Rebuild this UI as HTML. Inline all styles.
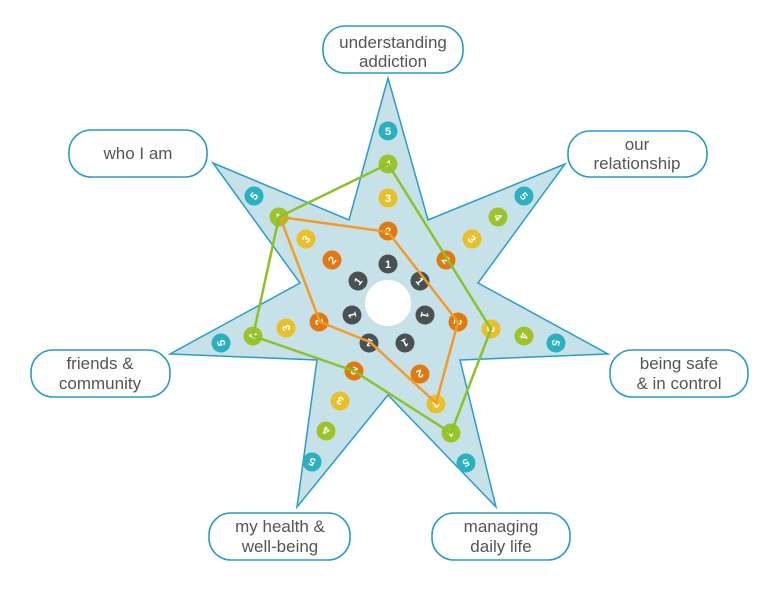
<!DOCTYPE html>
<html><head><meta charset="utf-8"><style>
html,body{margin:0;padding:0;background:#fff;width:768px;height:599px;overflow:hidden}
svg{display:block}
</style></head><body>
<svg width="768" height="599" viewBox="0 0 768 599" xmlns="http://www.w3.org/2000/svg" font-family="Liberation Sans, sans-serif">
<g fill="#fff" stroke="#2a9cc8" stroke-width="1.6">
<rect x="323" y="26" width="140" height="47" rx="22"/>
<rect x="69" y="130" width="138" height="47" rx="22"/>
<rect x="568" y="131" width="139" height="46" rx="22"/>
<rect x="31" y="350" width="139" height="47" rx="22"/>
<rect x="610" y="350" width="138" height="47" rx="22"/>
<rect x="209" y="513" width="141" height="47" rx="22"/>
<rect x="432" y="513" width="138" height="47" rx="22"/>
</g>
<g fill="#555" font-size="17" text-anchor="middle">
<text x="393" y="48">understanding</text><text x="393" y="67">addiction</text>
<text x="138" y="159">who I am</text>
<text x="637" y="150">our</text><text x="637" y="169">relationship</text>
<text x="100" y="369">friends &amp;</text><text x="100" y="389">community</text>
<text x="679" y="369">being safe</text><text x="679" y="389">&amp; in control</text>
<text x="280" y="532">my health &amp;</text><text x="280" y="552">well-being</text>
<text x="501" y="532">managing</text><text x="501" y="552">daily life</text>
</g>
<polygon fill="#c6e2e8" stroke="#2a9cc8" stroke-width="1.5" stroke-linejoin="miter"
points="388,78 428,220 565,164 478,283 608,354 460,360 496,507 388,395 297,507 317,360 170,354 300,283 213,163 349,220"/>
<circle cx="388" cy="303" r="23" fill="#fff"/>
<g font-size="11" font-weight="bold" fill="#fff" text-anchor="middle">
<g transform="translate(388,264)"><circle r="9.5" fill="#4a5155"/><text y="4">1</text></g>
<g transform="translate(388,231)"><circle r="9.5" fill="#e07a10"/><text y="4">2</text></g>
<g transform="translate(388,198)"><circle r="9.5" fill="#e8c02a"/><text y="4">3</text></g>
<g transform="translate(388,164)"><circle r="9.5" fill="#9cc42a"/><text y="4">4</text></g>
<g transform="translate(388,131)"><circle r="9.5" fill="#2ab0bf"/><text y="4">5</text></g>
<g transform="translate(420,281) rotate(51)"><circle r="9.5" fill="#4a5155"/><text y="4">1</text></g>
<g transform="translate(446,260) rotate(51)"><circle r="9.5" fill="#e07a10"/><text y="4">2</text></g>
<g transform="translate(472,239) rotate(51)"><circle r="9.5" fill="#e8c02a"/><text y="4">3</text></g>
<g transform="translate(498,217) rotate(51)"><circle r="9.5" fill="#9cc42a"/><text y="4">4</text></g>
<g transform="translate(524,196) rotate(51)"><circle r="9.5" fill="#2ab0bf"/><text y="4">5</text></g>
<g transform="translate(425,315) rotate(103)"><circle r="9.5" fill="#4a5155"/><text y="4">1</text></g>
<g transform="translate(458,322) rotate(103)"><circle r="9.5" fill="#e07a10"/><text y="4">2</text></g>
<g transform="translate(491,329) rotate(103)"><circle r="9.5" fill="#e8c02a"/><text y="4">3</text></g>
<g transform="translate(524,336) rotate(103)"><circle r="9.5" fill="#9cc42a"/><text y="4">4</text></g>
<g transform="translate(556,343) rotate(103)"><circle r="9.5" fill="#2ab0bf"/><text y="4">5</text></g>
<g transform="translate(405,343) rotate(154)"><circle r="9.5" fill="#4a5155"/><text y="4">1</text></g>
<g transform="translate(420,374) rotate(154)"><circle r="9.5" fill="#e07a10"/><text y="4">2</text></g>
<g transform="translate(436,404) rotate(154)"><circle r="9.5" fill="#e8c02a"/><text y="4">3</text></g>
<g transform="translate(451,433) rotate(154)"><circle r="9.5" fill="#9cc42a"/><text y="4">4</text></g>
<g transform="translate(466,463) rotate(154)"><circle r="9.5" fill="#2ab0bf"/><text y="4">5</text></g>
<g transform="translate(369,343) rotate(206)"><circle r="9.5" fill="#4a5155"/><text y="4">1</text></g>
<g transform="translate(354,371) rotate(206)"><circle r="9.5" fill="#e07a10"/><text y="4">2</text></g>
<g transform="translate(340,401) rotate(206)"><circle r="9.5" fill="#e8c02a"/><text y="4">3</text></g>
<g transform="translate(326,431) rotate(206)"><circle r="9.5" fill="#9cc42a"/><text y="4">4</text></g>
<g transform="translate(312,462) rotate(206)"><circle r="9.5" fill="#2ab0bf"/><text y="4">5</text></g>
<g transform="translate(352,315) rotate(257)"><circle r="9.5" fill="#4a5155"/><text y="4">1</text></g>
<g transform="translate(319,322) rotate(257)"><circle r="9.5" fill="#e07a10"/><text y="4">2</text></g>
<g transform="translate(286,328) rotate(257)"><circle r="9.5" fill="#e8c02a"/><text y="4">3</text></g>
<g transform="translate(253,336) rotate(257)"><circle r="9.5" fill="#9cc42a"/><text y="4">4</text></g>
<g transform="translate(221,343) rotate(257)"><circle r="9.5" fill="#2ab0bf"/><text y="4">5</text></g>
<g transform="translate(358,281) rotate(309)"><circle r="9.5" fill="#4a5155"/><text y="4">1</text></g>
<g transform="translate(332,260) rotate(309)"><circle r="9.5" fill="#e07a10"/><text y="4">2</text></g>
<g transform="translate(306,239) rotate(309)"><circle r="9.5" fill="#e8c02a"/><text y="4">3</text></g>
<g transform="translate(279,217) rotate(309)"><circle r="9.5" fill="#9cc42a"/><text y="4">4</text></g>
<g transform="translate(254,196) rotate(309)"><circle r="9.5" fill="#2ab0bf"/><text y="4">5</text></g>
</g>
<polygon fill="none" stroke="#f39a2a" stroke-width="2.5" stroke-linejoin="round"
points="388,232 458,322 436,403 370,342 320,322 280,217"/>
<polygon fill="none" stroke="#8cc12a" stroke-width="2.5" stroke-linejoin="round"
points="388,164 491,329 451,433 354,371 253,336 279,217"/>
</svg>
</body></html>
